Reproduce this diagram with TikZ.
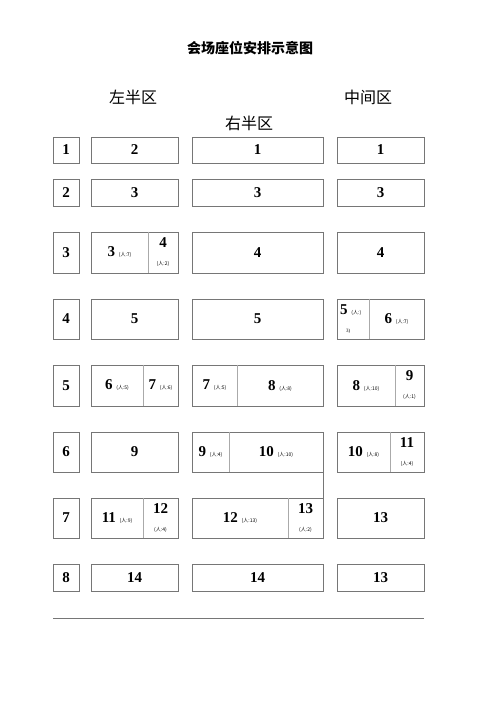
\documentclass[tikz,border=0pt]{standalone}
\usepackage{fontspec}
\setmainfont{Liberation Serif}
\newfontfamily\cjk{Noto Sans CJK SC}
\definecolor{boxgray}{RGB}{118,118,118}
\definecolor{divgray}{RGB}{170,170,170}
\newcommand\ppl[1]{{\cjk\mdseries\fontsize{5}{6}\selectfont(人:#1)}}
\tikzset{
  seat/.style={draw=boxgray, line width=0.7pt, inner sep=0pt, font=\fontsize{15}{17}\selectfont\bfseries},
  half/.style={inner sep=0pt, align=center, font=\fontsize{15}{17}\selectfont\bfseries},
  divider/.style={draw=divgray, line width=0.5pt},
  zone/.style={font=\cjk\fontsize{16}{18}\selectfont},
}
\begin{document}
\begin{tikzpicture}[x=1pt,y=-1pt]
\useasboundingbox[fill=white] (0,0) rectangle (500,707);
\node[font=\cjk\bfseries\fontsize{14}{16}\selectfont] (title) at (250,48) {会场座位安排示意图};
\node[zone] (zl) at (133,97) {左半区};
\node[zone] (zm) at (368,97) {中间区};
\node[zone] (zr) at (249,123) {右半区};
% rows: number, left, right, middle
\foreach \n/\y/\h/\l/\r/\m in {1/150/26/2/1/1, 2/192.5/27/3/3/3, 3/252.5/41//4/4,
    4/319/40/5/5/, 5/385.5/41///, 6/452/40/9//, 7/518/40///13, 8/577.5/27/14/14/13} {
    \node[seat,minimum width=26pt,minimum height=\h pt] (N\n) at (66,\y) {\n};
    \node[seat,minimum width=87pt,minimum height=\h pt] (L\n) at (134.5,\y) {\l};
    \node[seat,minimum width=131pt,minimum height=\h pt] (R\n) at (257.5,\y) {\r};
    \node[seat,minimum width=87pt,minimum height=\h pt] (M\n) at (380.5,\y) {\m};
}
% split seats
\draw[divider] (148,0 |- L3.north) -- (148,0 |- L3.south);
\node[half] (L3a) at (119.5,252.5) {3 \ppl{7}};
\node[half] (L3b) at (163,252.5) {4\\[1pt]\ppl{2}};
\draw[divider] (369,0 |- M4.north) -- (369,0 |- M4.south);
\node[half,align=left,anchor=west] (M4a) at (340,319) {5 \ppl{}\\[1pt]\hspace{6pt}{\fontsize{5}{6}\selectfont\mdseries 3)}};
\node[half] (M4b) at (396.5,319) {6 \ppl{7}};
\draw[divider] (143,0 |- L5.north) -- (143,0 |- L5.south);
\node[half] (L5a) at (117,385.5) {6 \ppl{5}};
\node[half] (L5b) at (160.5,385.5) {7 \ppl{6}};
\draw[divider] (237,0 |- R5.north) -- (237,0 |- R5.south);
\node[half] (R5a) at (214.5,385.5) {7 \ppl{5}};
\node[half] (R5b) at (280,385.5) {8 \ppl{8}};
\draw[divider] (395,0 |- M5.north) -- (395,0 |- M5.south);
\node[half] (M5a) at (366,385.5) {8 \ppl{10}};
\node[half] (M5b) at (409.5,385.5) {9\\[1pt]\ppl{1}};
\draw[divider] (229,0 |- R6.north) -- (229,0 |- R6.south);
\node[half] (R6a) at (210.5,452) {9 \ppl{4}};
\node[half] (R6b) at (276,452) {10 \ppl{10}};
\draw[divider] (390,0 |- M6.north) -- (390,0 |- M6.south);
\node[half] (M6a) at (363.5,452) {10 \ppl{8}};
\node[half] (M6b) at (407,452) {11\\[1pt]\ppl{4}};
\draw[divider] (143,0 |- L7.north) -- (143,0 |- L7.south);
\node[half] (L7a) at (117,518) {11 \ppl{9}};
\node[half] (L7b) at (160.5,518) {12\\[1pt]\ppl{4}};
\draw[divider] (288,0 |- R7.north) -- (288,0 |- R7.south);
\node[half] (R7a) at (240,518) {12 \ppl{13}};
\node[half] (R7b) at (305.5,518) {13\\[1pt]\ppl{2}};
\draw[boxgray,line width=0.7pt] (R6.south east) -- (R7.north east);
\coordinate (b1) at (53,618);
\coordinate (b2) at (424,618);
\draw[boxgray,line width=0.7pt] (b1) -- (b2);
\end{tikzpicture}
\end{document}
